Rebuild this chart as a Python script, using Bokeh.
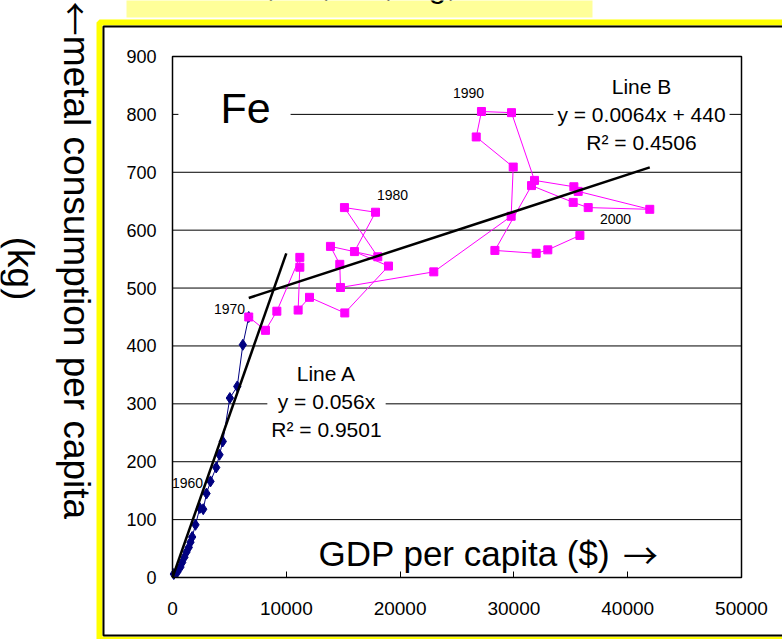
import math
from bokeh.plotting import figure
from bokeh.models import Range1d, Label, BoxAnnotation
from bokeh.embed import file_html
from bokeh.resources import INLINE

# ---------------- data ----------------
x_ticks = [0, 10000, 20000, 30000, 40000, 50000]
y_ticks = [0, 100, 200, 300, 400, 500, 600, 700, 800, 900]

# 1950-1970 (blue diamonds)
blue_gdp = [115, 410, 700, 850, 1050, 1230, 1430, 1580, 1730, 2020, 2400,
            2700, 2990, 3340, 3840, 4130, 4420, 5040, 5690, 6180, 6700]
blue_kg = [6, 9, 18, 26, 35, 44, 52, 61, 70, 91, 120,
           118, 145, 166, 190, 212, 235, 310, 330, 402, 450]

# 1970-2002 (magenta squares)
mag_gdp = [6700, 8170, 9170, 11190, 11190, 11040, 12040, 15140, 18980, 15990, 17840,
           15110, 18040, 13880, 14700, 14760, 22960, 29760, 29940, 26690, 27150,
           29790, 31810, 35270, 35650, 41940, 36530, 35210, 31550, 28330, 31960, 32980, 35800]
mag_kg = [450, 427, 460, 553, 536, 462, 484, 457, 538, 563, 631,
          639, 554, 572, 541, 501, 528, 624, 709, 761, 805,
          803, 686, 675, 667, 636, 639, 648, 677, 565, 560, 566, 591]

lineA_slope = 0.056
lineA_x = [0, 10000]
lineB_slope = 0.0064
lineB_intercept = 440

FONT = "Liberation Sans"
ARROW_FONT = "Noto Sans CJK JP"
W, H = 782, 639
# plot-area placement on the page (pixels)
PL, PR, PT, PB = 172, 741, 56, 577
XMIN, XMAX = x_ticks[0], x_ticks[-1]
YMIN, YMAX = y_ticks[0], y_ticks[-1]
ux = (XMAX - XMIN) / (PR - PL)
uy = (YMAX - YMIN) / (PB - PT)

p = figure(width=W, height=H,
           x_range=Range1d(XMIN - PL * ux, XMAX + (W - PR) * ux),
           y_range=Range1d(YMIN - (H - PB) * uy, YMAX + PT * uy),
           output_backend="svg", toolbar_location=None,
           min_border=0, min_border_left=0, min_border_right=0,
           min_border_top=0, min_border_bottom=0)
p.background_fill_color = "white"
p.border_fill_color = "white"
p.outline_line_color = None

# page-pixel helper ranges for decorations
p.extra_x_ranges = {"px": Range1d(0, W)}
p.extra_y_ranges = {"py": Range1d(H, 0)}

# axes placed inside the canvas
p.xaxis.fixed_location = 0
p.yaxis.fixed_location = 0
p.xaxis.ticker = x_ticks
p.yaxis.ticker = y_ticks
for ax in (p.xaxis, p.yaxis):
    ax.axis_line_color = None
    ax.minor_tick_line_color = None
    ax.major_label_text_font = FONT
    ax.major_label_text_color = "black"
p.xaxis.major_label_text_font_size = "19px"
p.yaxis.major_label_text_font_size = "18px"
p.xaxis.major_tick_in = 6
p.xaxis.major_tick_out = 0
p.xaxis.major_tick_line_color = "black"
p.xaxis.major_tick_line_width = 1
p.xaxis.major_label_standoff = 24
p.yaxis.major_tick_in = 0
p.yaxis.major_tick_out = 0
p.yaxis.major_tick_line_color = None
p.yaxis.major_label_standoff = 16

p.xgrid.visible = False
p.ygrid.visible = False

# horizontal grid lines across the plot area only
grid_y = y_ticks[1:-1]
p.segment(x0=[XMIN] * len(grid_y), x1=[XMAX] * len(grid_y), y0=grid_y, y1=grid_y,
          line_color="black", line_width=1)

# series
p.line(blue_gdp, blue_kg, line_color="#000080", line_width=1)
p.scatter(blue_gdp, blue_kg, marker="diamond", size=11, fill_color="#000080", line_color="#000080")
p.line(mag_gdp, mag_kg, line_color="#FF00FF", line_width=1)
p.scatter(mag_gdp, mag_kg, marker="square", size=8, fill_color="#FF00FF", line_color="#FF00FF")

# trend lines
p.line(lineA_x, [lineA_slope * v for v in lineA_x], line_color="black", line_width=2.5)
bx = [min(mag_gdp), max(mag_gdp)]
p.line(bx, [lineB_slope * v + lineB_intercept for v in bx], line_color="black", line_width=2.5)

# plot-area border
p.add_layout(BoxAnnotation(left=XMIN, right=XMAX, bottom=YMIN, top=YMAX,
                           fill_color=None, fill_alpha=0, line_color="black",
                           line_width=1.5, line_alpha=1))

# frame decorations (page pixel coordinates)
def box(**kw):
    p.add_layout(BoxAnnotation(x_range_name="px", y_range_name="py", **kw))

box(left=126, right=592, top=-10, bottom=17, fill_color="#FFFF99", fill_alpha=1, line_color=None)
box(left=99, right=900, top=22, bottom=639, fill_color=None, fill_alpha=0,
    line_color="#FFFF00", line_width=6, line_alpha=1)
box(left=103, right=900, top=26, bottom=635, fill_color=None, fill_alpha=0,
    line_color="black", line_width=2, line_alpha=1)

def lab(x, y, text, size, font=FONT, **kw):
    l = Label(x=x, y=y, text=text, x_range_name="px", y_range_name="py",
              text_font=font, text_font_size=size, text_color="black",
              text_align=kw.pop("align", "center"), text_baseline=kw.pop("baseline", "middle"), **kw)
    p.add_layout(l)

lab(365, -14.5, "Cu, Zn, Mn, Mg, Co", "32px", baseline="alphabetic")

lab(76, 18, "\u2190", "34px", font=ARROW_FONT, angle=-math.pi / 2)
lab(76, 277, "metal consumption per capita", "37px", angle=-math.pi / 2)
lab(20, 268, "(kg)", "37px", angle=-math.pi / 2)

lab(234, 107, "Fe", "43px", background_fill_color="white",
    padding=dict(left=42, right=20, top=2, bottom=2))
lab(641, 114, "Line B\ny = 0.0064x + 440\nR\u00b2 = 0.4506", "21px",
    background_fill_color="white", padding=4, text_line_height=1.2)
lab(326, 401, "Line A\ny = 0.056x\nR\u00b2 = 0.9501", "21px",
    background_fill_color="white", padding=4, text_line_height=1.2)
lab(318, 553, "GDP per capita ($)", "35px", align="left")
lab(640, 553, "\u2192", "35px", font=ARROW_FONT)

for t, x, y in [("1960", 187, 482), ("1970", 229, 308), ("1980", 392, 194),
                ("1990", 468, 92), ("2000", 615, 218)]:
    lab(x, y, t, "14px")

open("out.html", "w").write(file_html(p, INLINE))
